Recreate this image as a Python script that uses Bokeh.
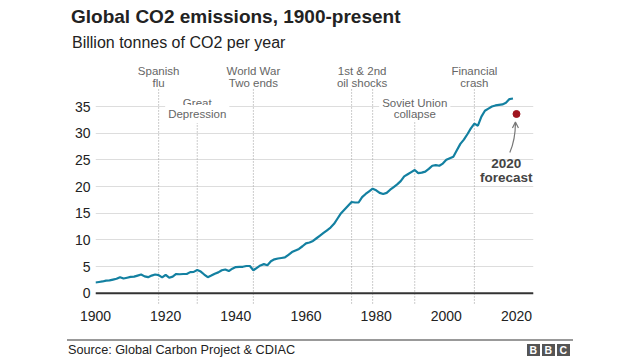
from bokeh.plotting import figure
from bokeh.layouts import column
from bokeh.models import Range1d, FixedTicker, Label, Span, Arrow, OpenHead, ColumnDataSource, Div
from bokeh.embed import file_html
from bokeh.resources import INLINE

# ---------------- data ----------------
years = list(range(1900, 2020))
emissions = [
    2.0, 2.1, 2.2, 2.35, 2.4, 2.55, 2.7, 3.0, 2.75, 2.9,
    3.05, 3.1, 3.3, 3.5, 3.15, 3.0, 3.3, 3.5, 3.4, 2.95,
    3.45, 2.9, 3.1, 3.6, 3.55, 3.6, 3.6, 3.95, 4.0, 4.35,
    4.05, 3.5, 3.0, 3.3, 3.65, 3.9, 4.3, 4.45, 4.15, 4.6,
    4.9, 4.95, 4.95, 5.1, 5.1, 4.3, 4.75, 5.2, 5.45, 5.25,
    6.0, 6.35, 6.5, 6.6, 6.7, 7.2, 7.7, 8.0, 8.3, 8.8,
    9.35, 9.5, 9.8, 10.3, 10.8, 11.3, 11.8, 12.3, 13.0, 14.0,
    15.0, 15.7, 16.4, 17.1, 17.0, 17.0, 18.0, 18.6, 19.1, 19.6,
    19.3, 18.8, 18.6, 18.8, 19.4, 19.9, 20.4, 21.0, 21.9, 22.3,
    22.7, 23.1, 22.5, 22.6, 22.8, 23.3, 23.9, 24.0, 23.9, 24.3,
    25.0, 25.3, 25.6, 26.8, 28.0, 28.8, 29.8, 30.9, 31.8, 31.4,
    33.1, 34.2, 34.6, 35.0, 35.2, 35.3, 35.4, 35.7, 36.4, 36.5,
]
forecast_year = [2020]
forecast_value = [33.6]

event_years = [1918, 1929, 1945, 1973, 1979, 1991, 2008]
upper_events = [
    (1918, "Spanish", "flu"),
    (1945, "World War", "Two ends"),
    (1976, "1st & 2nd", "oil shocks"),
    (2008, "Financial", "crash"),
]
lower_events = [
    (1929, "Great", "Depression", 2),
    (1991, "Soviet Union", "collapse", 1),
]
event_tops = [38.2, 32.4, 38.2, 38.2, 38.2, 32.4, 38.2]

x_ticks = [1900, 1920, 1940, 1960, 1980, 2000, 2020]
y_ticks = [0, 5, 10, 15, 20, 25, 30, 35]

title_text = "Global CO2 emissions, 1900-present"
subtitle_text = "Billion tonnes of CO2 per year"
source_text = "Source: Global Carbon Project &amp; CDIAC"
logo_letters = ["B", "B", "C"]

FONT = "Liberation Sans"
TEAL = "#1380A1"
W = 640

# ---------------- header ----------------
head_html = (
    f'<div style="position:relative;width:{W}px;height:56px;font-family:\'{FONT}\';color:#222222;">'
    f'<div style="position:absolute;left:71px;top:6.9px;font-size:19px;font-weight:bold;line-height:1;white-space:nowrap;">{title_text}</div>'
    f'<div style="position:absolute;left:72px;top:35px;font-size:16px;line-height:1;white-space:nowrap;">{subtitle_text}</div>'
    '</div>'
)
head = Div(text=head_html, width=W, height=56, margin=0)

# ---------------- main chart ----------------
p = figure(width=W, height=274, output_backend="svg", toolbar_location=None, title=None,
           x_range=Range1d(1900, 2024.85), y_range=Range1d(-2.31, 43.63),
           min_border_left=95, min_border_right=107, min_border_top=4, min_border_bottom=25)
p.outline_line_color = None
p.xgrid.grid_line_color = None
p.ygrid.grid_line_color = "#dddddd"
p.ygrid.grid_line_width = 1
p.yaxis.ticker = FixedTicker(ticks=y_ticks)
p.xaxis.ticker = FixedTicker(ticks=x_ticks)
for ax in (p.xaxis[0], p.yaxis[0]):
    ax.axis_line_color = None
    ax.major_tick_line_color = None
    ax.minor_tick_line_color = None
    ax.major_tick_out = 0
    ax.major_tick_in = 0
    ax.minor_tick_out = 0
    ax.minor_tick_in = 0
    ax.major_label_text_font = FONT
    ax.major_label_text_font_size = "14px"
    ax.major_label_text_color = "#222222"
p.xaxis.major_label_standoff = 5
p.yaxis.major_label_standoff = 5

p.add_layout(Span(location=0, dimension="width", line_color="#333333", line_width=2))

p.segment(x0=event_years, y0=[-1.93] * len(event_years), x1=event_years, y1=event_tops,
          line_color="#999999", line_width=1, line_dash="1 2")

src = ColumnDataSource(dict(x=years, y=emissions))
p.line("x", "y", source=src, line_color=TEAL, line_width=2.2)

p.scatter(forecast_year, forecast_value, size=7, fill_color="#a0141e", line_color="#a0141e")


def lab(x, y, text, size="11.5px", color="#666666", bold=False, bg=None):
    kw = dict(x=x, y=y, text=text, text_font=FONT, text_font_size=size, text_color=color,
              text_align="center", text_baseline="middle",
              text_font_style="bold" if bold else "normal")
    if bg:
        kw.update(background_fill_color=bg, padding=3)
    p.add_layout(Label(**kw))


for yr, l1, l2 in upper_events:
    lab(yr, 41.75, l1)
    lab(yr, 39.5, l2)
for yr, l1, l2, wide in lower_events:
    lab(yr, 35.75, l1, bg="white" if wide == 1 else None)
    lab(yr, 33.6, l2, bg="white" if wide == 2 else None)

lab(2017.1, 24.3, "2020", size="13.5px", color="#444444", bold=True)
lab(2017.1, 21.7, "forecast", size="13.5px", color="#444444", bold=True)
p.bezier(x0=[2018.1], y0=[26.4], x1=[2019.7], y1=[32.0],
         cx0=[2019.3], cy0=[28.2], cx1=[2019.7], cy1=[30.0],
         line_color="#777777", line_width=1.2)
p.add_layout(Arrow(end=OpenHead(size=6, line_color="#777777", line_width=1.2),
                   x_start=2019.7, y_start=31.4, x_end=2019.7, y_end=32.1,
                   line_color="#777777", line_width=1.2))

# ---------------- footer ----------------
logo = "".join(
    f'<div style="position:absolute;left:{527 + i * 15}px;top:14px;width:12.5px;height:12px;'
    f'background:#555555;color:white;font-size:10.5px;font-weight:bold;line-height:12px;text-align:center;">{ch}</div>'
    for i, ch in enumerate(logo_letters)
)
foot_html = (
    f'<div style="position:relative;width:{W}px;height:30px;font-family:\'{FONT}\';color:#222222;">'
    '<div style="position:absolute;left:67px;top:9.2px;width:506px;height:1.6px;background:#999999;"></div>'
    f'<div style="position:absolute;left:68px;top:14.3px;font-size:12.7px;line-height:1;white-space:nowrap;">{source_text}</div>'
    f'{logo}</div>'
)
foot = Div(text=foot_html, width=W, height=30, margin=0)

layout = column(head, p, foot, spacing=0)
open("out.html", "w").write(file_html(layout, INLINE))
